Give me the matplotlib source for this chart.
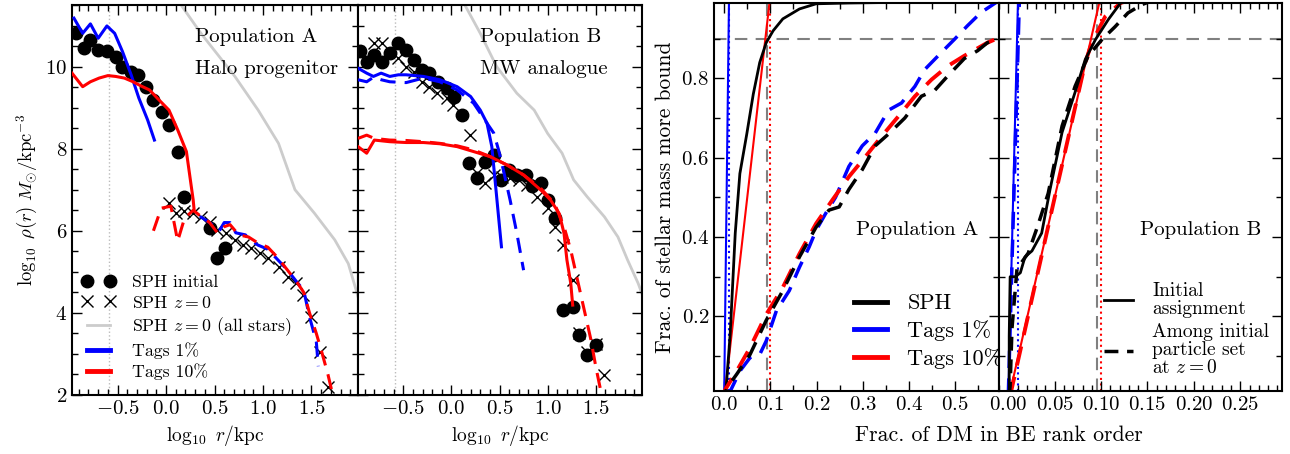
import numpy as np
import matplotlib
matplotlib.use('Agg')
import matplotlib.pyplot as plt
from matplotlib.ticker import MultipleLocator

plt.rcParams['font.family'] = ['cmr10', 'DejaVu Serif']
plt.rcParams['mathtext.fontset'] = 'cm'
plt.rcParams['axes.formatter.use_mathtext'] = True
plt.rcParams['font.size'] = 13

# ---- density profiles, population A (halo progenitor) ----
a_sph_init_x = [-0.93, -0.85, -0.78, -0.70, -0.61, -0.52, -0.45, -0.36, -0.29, -0.21, -0.13, -0.04,
                0.03, 0.12, 0.19, 0.45, 0.53, 0.61]
a_sph_init_y = [10.81, 10.46, 10.65, 10.41, 10.37, 10.23, 10.0, 9.88, 9.80, 9.51, 9.19, 8.90,
                8.58, 7.93, 6.83, 6.08, 5.33, 5.57]
a_sph_z0_x = [0.03, 0.10, 0.19, 0.28, 0.36, 0.45, 0.53, 0.62, 0.71, 0.79, 0.88, 0.97, 1.05, 1.16,
              1.26, 1.34, 1.41, 1.50, 1.59, 1.67]
a_sph_z0_y = [6.67, 6.43, 6.47, 6.43, 6.34, 6.22, 6.02, 5.94, 5.78, 5.65, 5.57, 5.45, 5.33, 5.13,
              4.88, 4.72, 4.44, 3.91, 3.05, 2.2]
a_all_x = [0.10, 0.155, 0.36, 0.71, 0.95, 1.16, 1.33, 1.53, 1.74, 1.88, 1.97, 2.05]
a_all_y = [11.9, 11.5, 10.81, 9.76, 8.94, 8.13, 7.0, 6.43, 5.78, 5.2, 4.48, 3.8]
a_t1_init_x = [-0.95, -0.86, -0.78, -0.70, -0.61, -0.53, -0.45, -0.36, -0.28, -0.19, -0.12]
a_t1_init_y = [11.18, 10.81, 11.04, 10.69, 10.99, 10.81, 10.37, 9.80, 9.23, 8.70, 8.21]
a_t10_init_x = [-0.97, -0.86, -0.78, -0.69, -0.60, -0.52, -0.43, -0.34, -0.26, -0.17, -0.09, 0.03,
                0.12, 0.21, 0.28, 0.29]
a_t10_init_y = [9.84, 9.51, 9.63, 9.72, 9.78, 9.76, 9.72, 9.63, 9.53, 9.43, 9.23, 8.94,
                8.46, 7.93, 6.75, 6.5]
a_t10_z0_x = [-0.13, -0.05, 0.05, 0.12, 0.19, 0.28, 0.36, 0.45, 0.53, 0.60, 0.66, 0.75, 0.85, 0.95,
              1.05, 1.15, 1.25, 1.35, 1.42, 1.48, 1.55, 1.60, 1.67, 1.72]
a_t10_z0_y = [6.0, 6.55, 6.6, 5.75, 6.3, 6.5, 6.35, 6.2, 5.95, 6.1, 6.15, 5.9, 5.85, 5.7,
              5.6, 5.35, 5.05, 4.75, 4.5, 4.0, 3.5, 3.1, 2.5, 2.0]
a_t1_z0_x = [0.35, 0.45, 0.55, 0.60, 0.66, 0.72, 0.82, 0.85, 0.95, 1.05, 1.15, 1.25, 1.35, 1.42,
             1.48, 1.55, 1.57]
a_t1_z0_y = [6.35, 6.2, 6.0, 6.2, 6.2, 5.95, 5.9, 5.8, 5.65, 5.55, 5.3, 5.05, 4.75, 4.55,
             3.9, 3.3, 2.7]

# ---- density profiles, population B (MW analogue) ----
b_sph_init_x = [-0.95, -0.88, -0.80, -0.72, -0.64, -0.55, -0.47, -0.39, -0.31, -0.23, -0.14, -0.05,
                0.03, 0.11, 0.18, 0.27, 0.35, 0.44, 0.52, 0.60, 0.68, 0.77, 0.84, 0.93, 1.00,
                1.08, 1.16, 1.26, 1.33, 1.41, 1.50]
b_sph_init_y = [10.37, 10.12, 10.28, 10.10, 10.32, 10.57, 10.41, 10.16, 9.92, 9.84, 9.63, 9.47,
                9.27, 8.82, 7.66, 7.28, 7.68, 7.85, 7.24, 7.48, 7.36, 7.36, 7.08, 7.16, 6.75,
                6.30, 4.07, 4.15, 3.46, 2.97, 3.22]
b_sph_z0_x = [-0.80, -0.72, -0.55, -0.47, -0.39, -0.31, -0.23, -0.15, -0.05, 0.02, 0.19, 0.27,
              0.35, 0.44, 0.53, 0.61, 0.70, 0.79, 0.89, 1.00, 1.08, 1.16, 1.26, 1.33, 1.41,
              1.50, 1.59]
b_sph_z0_y = [10.58, 10.57, 10.20, 10.0, 9.88, 9.63, 9.50, 9.35, 9.23, 9.07, 8.33, 7.40,
              7.16, 7.36, 7.32, 7.28, 7.24, 7.12, 6.83, 6.55, 6.10, 5.65, 4.80, 3.50, 3.05,
              3.25, 2.49]
b_all_x = [0.10, 0.14, 0.30, 0.47, 0.68, 0.86, 1.0, 1.15, 1.27, 1.41, 1.59, 1.73,
           1.83, 1.94, 1.99, 2.05]
b_all_y = [11.9, 11.5, 10.81, 10.0, 9.35, 8.94, 8.37, 7.89, 7.24, 6.83, 6.34, 5.85,
           5.29, 4.72, 4.4, 3.9]
b_t1_init_x = [-0.97, -0.88, -0.81, -0.73, -0.64, -0.55, -0.47, -0.29, -0.12, 0.06, 0.20, 0.30,
               0.37, 0.42, 0.46, 0.49, 0.52]
b_t1_init_y = [9.96, 9.84, 9.76, 9.84, 9.76, 9.80, 9.80, 9.76, 9.68, 9.51, 9.27, 8.94,
               8.62, 8.05, 7.08, 6.34, 5.61]
b_t1_z0_x = [-0.97, -0.88, -0.81, -0.73, -0.64, -0.47, -0.29, -0.12, 0.06, 0.23, 0.37, 0.44,
             0.49, 0.54, 0.61, 0.68, 0.75]
b_t1_z0_y = [9.68, 9.63, 9.74, 9.68, 9.63, 9.61, 9.72, 9.63, 9.43, 9.11, 8.62, 8.38,
             7.97, 7.48, 6.75, 5.94, 5.04]
b_t10_init_x = [-0.97, -0.88, -0.80, -0.64, -0.47, -0.29, -0.12, 0.06, 0.23, 0.40, 0.58, 0.75,
                0.93, 1.03, 1.12, 1.17, 1.20, 1.24, 1.26]
b_t10_init_y = [8.05, 7.89, 8.21, 8.17, 8.15, 8.15, 8.12, 8.05, 7.93, 7.81, 7.60, 7.36,
                6.99, 6.75, 6.42, 5.94, 5.29, 4.72, 4.19]
b_t10_z0_x = [-0.97, -0.88, -0.80, -0.64, -0.47, -0.29, -0.12, 0.06, 0.23, 0.40, 0.58, 0.75,
              0.93, 1.07, 1.17, 1.24, 1.31, 1.38, 1.45, 1.50, 1.55]
b_t10_z0_y = [8.25, 8.33, 8.25, 8.21, 8.20, 8.17, 8.13, 8.07, 7.97, 7.81, 7.60, 7.36,
              7.03, 6.67, 6.10, 5.53, 4.80, 4.07, 3.34, 2.69, 2.12]

r_soft = -0.59

# ---- binding energy rank, population A ----
pa_sph_x = [0.0, 0.004, 0.013, 0.024, 0.034, 0.049, 0.063, 0.077, 0.091, 0.106, 0.127, 0.163,
            0.199, 0.27, 0.6]
pa_sph_y = [0.0, 0.015, 0.155, 0.41, 0.56, 0.66, 0.76, 0.84, 0.89, 0.92, 0.95, 0.975,
            0.988, 0.99, 0.995]
pa_sph_z0_x = [0.0, 0.006, 0.027, 0.056, 0.091, 0.127, 0.163, 0.199, 0.227, 0.249, 0.27, 0.299,
               0.327, 0.356, 0.391, 0.427, 0.456, 0.484, 0.52, 0.549, 0.57, 0.62]
pa_sph_z0_y = [0.0, 0.02, 0.054, 0.104, 0.19, 0.265, 0.35, 0.425, 0.468, 0.476, 0.52, 0.57,
               0.63, 0.66, 0.70, 0.755, 0.77, 0.806, 0.85, 0.87, 0.89, 0.91]
pa_t10_z0_x = [0.0, 0.002, 0.027, 0.056, 0.091, 0.127, 0.163, 0.199, 0.234, 0.27, 0.306, 0.341,
               0.377, 0.413, 0.449, 0.484, 0.52, 0.57, 0.62]
pa_t10_z0_y = [0.0, 0.015, 0.062, 0.121, 0.205, 0.273, 0.358, 0.434, 0.493, 0.552, 0.603, 0.654,
               0.704, 0.755, 0.797, 0.831, 0.857, 0.89, 0.915]
pa_t1_z0_x = [0.012, 0.013, 0.034, 0.056, 0.077, 0.091, 0.113, 0.141, 0.163, 0.184, 0.199, 0.22,
              0.241, 0.27, 0.299, 0.327, 0.356, 0.384, 0.413, 0.434, 0.47, 0.499, 0.527, 0.556,
              0.6]
pa_t1_z0_y = [0.0, 0.011, 0.062, 0.096, 0.104, 0.138, 0.214, 0.265, 0.324, 0.375, 0.417, 0.46,
              0.50, 0.578, 0.63, 0.662, 0.72, 0.738, 0.78, 0.822, 0.865, 0.899, 0.933, 0.966,
              1.0]
pa_cut90 = 0.093

# ---- binding energy rank, population B ----
pb_sph_x = [0.001, 0.001, 0.002, 0.0075, 0.013, 0.018, 0.0255, 0.036, 0.045, 0.058, 0.072,
            0.083, 0.094, 0.108, 0.121, 0.135]
pb_sph_y = [0.0, 0.15, 0.30, 0.30, 0.31, 0.35, 0.365, 0.41, 0.52, 0.664, 0.765,
            0.848, 0.898, 0.949, 0.99, 1.0]
pb_sph_z0_x = [0.001, 0.002, 0.004, 0.0094, 0.0216, 0.032, 0.043, 0.058, 0.072, 0.086, 0.101,
               0.115, 0.129, 0.144, 0.16]
pb_sph_z0_y = [0.0, 0.025, 0.17, 0.32, 0.36, 0.43, 0.51, 0.68, 0.78, 0.856, 0.898,
               0.93, 0.965, 0.986, 1.0]
pb_t10_z0_x = [0.002, 0.051, 0.083, 0.09, 0.1045, 0.121, 0.135]
pb_t10_z0_y = [0.0, 0.51, 0.84, 0.89, 0.956, 0.99, 1.0]
pb_cut90 = 0.096

# ideal tag lines: all stellar mass in the most bound 1% / 10%
tag1_x = [0.0, 0.0105]
tag10_x = [0.001, 0.099]
tag_y = [0.0, 1.0]

fig = plt.figure(figsize=(12.9, 4.54), dpi=100)
ax1 = fig.add_axes([72 / 1290, 59 / 454, 286 / 1290, 390 / 454])
ax2 = fig.add_axes([358 / 1290, 59 / 454, 284 / 1290, 390 / 454], sharey=ax1)
ax3 = fig.add_axes([714 / 1290, 63 / 454, 285 / 1290, 388 / 454])
ax4 = fig.add_axes([999 / 1290, 63 / 454, 283 / 1290, 388 / 454], sharey=ax3)

dash = (0, (5, 3))


def density_panel(ax, d, lab1, lab2):
    ax.plot(d['all'][0], d['all'][1], color='#cccccc', lw=2, label=r'SPH $z=0$ (all stars)', zorder=1)
    ax.axvline(r_soft, color='#bbbbbb', ls=':', lw=1, zorder=0)
    ax.plot(d['init'][0], d['init'][1], 'o', color='k', ms=9, label='SPH initial', zorder=3)
    ax.plot(d['z0'][0], d['z0'][1], 'x', color='k', ms=8, mew=1, label=r'SPH $z=0$', zorder=3)
    ax.plot(d['t1i'][0], d['t1i'][1], color='b', lw=2.2, label='Tags 1%', zorder=4)
    ax.plot(d['t10i'][0], d['t10i'][1], color='r', lw=2.2, label='Tags 10%', zorder=4)
    ax.plot(d['t1z'][0], d['t1z'][1], color='b', lw=2.2, ls=dash, zorder=4)
    ax.plot(d['t10z'][0], d['t10z'][1], color='r', lw=2.2, ls=dash, zorder=4)
    ax.set_xlim(-0.97, 1.98)
    ax.set_ylim(2, 11.5)
    ax.xaxis.set_major_locator(MultipleLocator(0.5))
    ax.xaxis.set_minor_locator(MultipleLocator(0.1))
    ax.yaxis.set_major_locator(MultipleLocator(2))
    ax.yaxis.set_minor_locator(MultipleLocator(0.5))
    ax.set_xlabel(r'$\log_{10}\ r/\mathrm{kpc}$', fontsize=14)
    ax.text(0.43, 0.942, lab1, transform=ax.transAxes, fontsize=15, va='top')
    ax.text(0.43, 0.860, lab2, transform=ax.transAxes, fontsize=15, va='top')


density_panel(ax1, {'all': (a_all_x, a_all_y), 'init': (a_sph_init_x, a_sph_init_y),
                    'z0': (a_sph_z0_x, a_sph_z0_y), 't1i': (a_t1_init_x, a_t1_init_y),
                    't10i': (a_t10_init_x, a_t10_init_y), 't1z': (a_t1_z0_x, a_t1_z0_y),
                    't10z': (a_t10_z0_x, a_t10_z0_y)}, 'Population A', 'Halo progenitor')
density_panel(ax2, {'all': (b_all_x, b_all_y), 'init': (b_sph_init_x, b_sph_init_y),
                    'z0': (b_sph_z0_x, b_sph_z0_y), 't1i': (b_t1_init_x, b_t1_init_y),
                    't10i': (b_t10_init_x, b_t10_init_y), 't1z': (b_t1_z0_x, b_t1_z0_y),
                    't10z': (b_t10_z0_x, b_t10_z0_y)}, 'Population B', 'MW analogue')
ax1.set_ylabel(r'$\log_{10}\ \rho(r)\ M_{\odot}/\mathrm{kpc}^{-3}$', fontsize=13.5)
plt.setp(ax2.get_yticklabels(), visible=False)

h, l = ax1.get_legend_handles_labels()
order = [l.index('SPH initial'), l.index(r'SPH $z=0$'), l.index(r'SPH $z=0$ (all stars)'),
         l.index('Tags 1%'), l.index('Tags 10%')]
leg = ax1.legend([h[i] for i in order], [l[i] for i in order], loc='lower left', frameon=False,
                 numpoints=2, fontsize=12.8, handlelength=1.9, handletextpad=0.9,
                 borderaxespad=0.0, labelspacing=0.25, bbox_to_anchor=(0.01, 0.02))
for line in leg.get_lines()[3:]:
    line.set_linewidth(3.5)

# right-hand panels
for ax, cut in [(ax3, pa_cut90), (ax4, pb_cut90)]:
    ax.axhline(0.9, color='grey', ls=(0, (6, 4)), lw=1.5, zorder=0)
    ax.axvline(cut, color='grey', ls=(0, (6, 4)), lw=1.5, zorder=0)
    ax.axvline(0.1, color='r', ls=':', lw=1.5, zorder=0)
    ax.axvline(0.0102, color='b', ls=':', lw=1.5, zorder=0)
    ax.plot(tag1_x, tag_y, color='b', lw=1.5)
    ax.plot(tag10_x, tag_y, color='r', lw=1.5)
    ax.set_ylim(0.012, 0.99)
    ax.yaxis.set_major_locator(MultipleLocator(0.2))
    ax.yaxis.set_minor_locator(MultipleLocator(0.1))

ax3.plot(pa_sph_x, pa_sph_y, color='k', lw=2, label='SPH')
ax3.plot(pa_t1_z0_x, pa_t1_z0_y, color='b', lw=2.5, ls=dash)
ax3.plot(pa_t10_z0_x, pa_t10_z0_y, color='r', lw=2.8, ls=dash)
ax3.plot(pa_sph_z0_x, pa_sph_z0_y, color='k', lw=2.5, ls=(3, (5, 3)))
ax3.set_xlim(-0.022, 0.595)
ax3.xaxis.set_major_locator(MultipleLocator(0.1))
ax3.xaxis.set_minor_locator(MultipleLocator(0.05))
ax3.set_ylabel('Frac. of stellar mass more bound', fontsize=15.5)
ax3.text(0.50, 0.415, 'Population A', transform=ax3.transAxes, fontsize=15, va='center')
ax3.legend([plt.Line2D([], [], color=c, lw=3.5) for c in ['k', 'b', 'r']],
           ['SPH', 'Tags 1%', 'Tags 10%'], loc='lower left', frameon=False, fontsize=16,
           handlelength=1.5, handletextpad=0.9, bbox_to_anchor=(0.46, 0.035), borderaxespad=0,
           labelspacing=0.3)

ax4.plot(pb_t10_z0_x, pb_t10_z0_y, color='r', lw=2.8, ls=dash)
ax4.plot([0.0, 0.012], [0.0, 1.0], color='b', lw=2.5, ls=dash)
ax4.plot(pb_sph_x, pb_sph_y, color='k', lw=2, label='Initial\nassignment')
ax4.plot(pb_sph_z0_x, pb_sph_z0_y, color='k', lw=2.5, ls=(0, (4, 2.5)),
         label='Among initial\nparticle set\nat $z=0$')
ax4.set_xlim(-0.01, 0.295)
ax4.xaxis.set_major_locator(MultipleLocator(0.05))
ax4.xaxis.set_minor_locator(MultipleLocator(0.01))
plt.setp(ax4.get_yticklabels(), visible=False)
ax4.text(0.50, 0.415, 'Population B', transform=ax4.transAxes, fontsize=15, va='center')
leg4 = ax4.legend(loc='lower left', frameon=False, fontsize=14, handlelength=1.45,
                  bbox_to_anchor=(0.345, 0.015), borderaxespad=0, labelspacing=0.3,
                  handletextpad=1.0)
for t in leg4.get_texts():
    t.set_linespacing(1.0)
fig.text(999 / 1290, 0.02, 'Frac. of DM in BE rank order', ha='center', va='bottom', fontsize=15.7)

for ax in [ax1, ax2, ax3, ax4]:
    ax.tick_params(which='both', direction='in', top=True, right=True, labelsize=15)
    ax.tick_params(which='major', length=7, width=1)
    ax.tick_params(which='minor', length=4, width=1)
    for s in ax.spines.values():
        s.set_linewidth(1.5)

fig.savefig('out.png', dpi=100)
